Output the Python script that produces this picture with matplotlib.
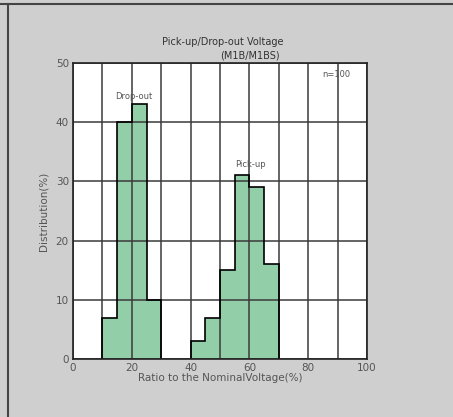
import numpy as np
import matplotlib.pyplot as plt
from matplotlib.lines import Line2D

# 数据：5% 步长直方图
边界_释放 = [10, 15, 20, 25, 30]
分布_释放 = [7, 40, 43, 10]
边界_吸合 = [40, 45, 50, 55, 60, 65, 70]
分布_吸合 = [3, 7, 15, 31, 29, 16]

x刻度 = [0, 20, 40, 60, 80, 100]
y刻度 = [0, 10, 20, 30, 40, 50]

填充色 = "#92cfa9"
网格色 = "#3a3a3a"
文字色 = "#555555"

plt.rcParams["font.family"] = ["DejaVu Sans"]

fig = plt.figure(figsize=(4.53, 4.17), dpi=100, facecolor="#cfcfcf")
W, H = 453, 417
ax = fig.add_axes([73 / W, 1 - 359 / H, (367 - 73) / W, (359 - 63) / H])
ax.set_facecolor("white")

for 边界, 分布 in [(边界_释放, 分布_释放), (边界_吸合, 分布_吸合)]:
    ax.stairs(分布, 边界, baseline=0, fill=True, color=填充色, zorder=1)

ax.set_xlim(0, 100)
ax.set_ylim(0, 50)
ax.set_xticks(x刻度)
ax.set_xticks(np.arange(10, 100, 20), minor=True)
ax.set_yticks(y刻度)
ax.grid(True, which="both", axis="x", color=网格色, linewidth=1.1, zorder=2)
ax.grid(True, axis="y", color=网格色, linewidth=1.1, zorder=2)
ax.set_axisbelow(False)

for 边界, 分布 in [(边界_释放, 分布_释放), (边界_吸合, 分布_吸合)]:
    ax.stairs(分布, 边界, baseline=0, fill=False, color="black", linewidth=1.2, zorder=3)

for s in ax.spines.values():
    s.set_color("#222222")
    s.set_linewidth(1.2)
    s.set_zorder(4)

ax.tick_params(which="both", length=0, labelsize=7.5, labelcolor=文字色, pad=3)
ax.set_xlabel("Ratio to the NominalVoltage(%)", fontsize=7.5, color=文字色, labelpad=0)
ax.set_ylabel("Distribution(%)", fontsize=7.5, color=文字色, labelpad=5)

ax.text(20.7, 44.3, "Drop-out", fontsize=6, color=文字色, ha="center", va="center")
ax.text(60.4, 32.8, "Pick-up", fontsize=6, color=文字色, ha="center", va="center")
ax.text(89.4, 48.0, "n=100", fontsize=6, color=文字色, ha="center", va="center")

fig.text(223 / W, 1 - 42 / H, "Pick-up/Drop-out Voltage", fontsize=7, color="#333333",
         ha="center", va="center")
fig.text(280 / W, 1 - 55 / H, "(M1B/M1BS)", fontsize=7, color="#333333",
         ha="right", va="center")

# 外框线
fig.add_artist(Line2D([0, 1], [1 - 4 / H, 1 - 4 / H], transform=fig.transFigure,
                      color="#444444", linewidth=1.5))
fig.add_artist(Line2D([8 / W, 8 / W], [0, 1 - 4 / H], transform=fig.transFigure,
                      color="#444444", linewidth=1.5))

fig.savefig("out.png", dpi=100, facecolor=fig.get_facecolor())
